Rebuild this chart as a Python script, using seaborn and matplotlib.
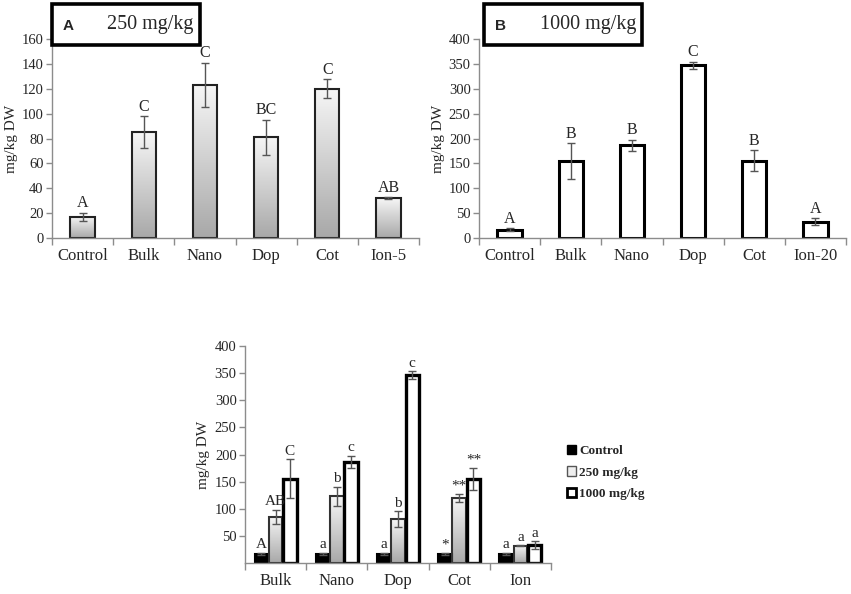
import numpy as np
import pandas as pd
import matplotlib
matplotlib.use("Agg")
import matplotlib.pyplot as plt
import seaborn as sns
from matplotlib.patches import Rectangle, Patch
from matplotlib.colors import LinearSegmentedColormap

# panel A: 250 mg/kg
cats_a = ["Control", "Bulk", "Nano", "Dop", "Cot", "Ion-5"]
vals_a = [17, 85, 123, 81, 120, 32]
err_a = [3.5, 13, 18, 14, 7.5, 1]
let_a = ["A", "C", "C", "BC", "C", "AB"]

# panel B: 1000 mg/kg
cats_b = ["Control", "Bulk", "Nano", "Dop", "Cot", "Ion-20"]
vals_b = [17, 155, 186, 347, 155, 33]
err_b = [2.5, 36, 11.5, 7, 21, 7]
let_b = ["A", "B", "B", "C", "B", "A"]

# panel C: grouped
groups_c = ["Bulk", "Nano", "Dop", "Cot", "Ion"]
series_c = ["Control", "250 mg/kg", "1000 mg/kg"]
ctrl_c = [17, 17, 17, 17, 17]
ctrl_err = [2, 2, 2, 2, 2]
low_c = [85, 123, 81, 120, 32]
low_err = [13, 18, 14, 7.5, 1]
high_c = [155, 186, 347, 155, 33]
high_err = [36, 11.5, 7, 21, 7]
let_ctrl = ["A", "a", "a", "*", "a"]
let_low = ["AB", "b", "b", "**", "a"]
let_high = ["C", "c", "c", "**", "a"]

sns.set_theme(style="white")
plt.rcParams["font.family"] = ["Liberation Serif", "DejaVu Serif"]

grey_cmap = LinearSegmentedColormap.from_list("g", ["#a8a8a8", "#f6f6f6"])
SPINE = "#8c8c8c"


def gradient_fill(ax, bars):
    xl, yl = ax.get_xlim(), ax.get_ylim()
    grad = np.linspace(0, 1, 256).reshape(-1, 1)
    for bar in bars:
        x0, y0 = bar.get_x(), bar.get_y()
        w, h = bar.get_width(), bar.get_height()
        bar.set_facecolor("none")
        ax.imshow(grad, extent=[x0, x0 + w, y0, y0 + h], origin="lower",
                  cmap=grey_cmap, aspect="auto", zorder=0.9)
    ax.set_xlim(xl)
    ax.set_ylim(yl)


def style_axis(ax, n, ymax, yticks, xfs=12):
    ax.set_xlim(-0.5, n - 0.5)
    ax.set_ylim(0, ymax)
    ax.set_yticks(yticks)
    ax.set_xticks(range(n))
    ax.set_xticks(np.arange(-0.5, n, 1), minor=True)
    ax.tick_params(axis="x", which="major", length=0, labelsize=xfs, pad=7)
    ax.tick_params(axis="x", which="minor", length=5, color=SPINE, width=1,
                   direction="out", bottom=True)
    ax.tick_params(axis="y", length=4, color=SPINE, width=1, direction="out",
                   left=True, labelsize=10.5, pad=2)
    for s in ["top", "right"]:
        ax.spines[s].set_visible(False)
    for s in ["left", "bottom"]:
        ax.spines[s].set_color(SPINE)
        ax.spines[s].set_linewidth(1)
    ax.set_xlabel("")
    ax.set_ylabel("mg/kg DW", fontsize=11, labelpad=3)


def add_errors(ax, bars, vals, errs, letters, fs=11.5):
    xs = [b.get_x() + b.get_width() / 2 for b in bars]
    ax.errorbar(xs, vals, yerr=errs, fmt="none", ecolor="#555555",
                elinewidth=1, capsize=3, capthick=1, zorder=3)
    for x, v, e, t in zip(xs, vals, errs, letters):
        ax.annotate(t, (x, v + e), xytext=(0, 1), textcoords="offset points",
                    ha="center", va="bottom", fontsize=fs)


fig = plt.figure(figsize=(8.51, 5.94), dpi=100)

# ---- panel A
ax_a = fig.add_axes([52 / 851, 1 - 238 / 594, 367 / 851, 199 / 594])
df_a = pd.DataFrame({"cat": cats_a, "val": vals_a})
sns.barplot(data=df_a, x="cat", y="val", ax=ax_a, width=0.4, color="white",
            edgecolor="#222222", linewidth=1.5)
style_axis(ax_a, len(cats_a), 160, range(0, 161, 20))
gradient_fill(ax_a, ax_a.patches)
add_errors(ax_a, ax_a.patches, vals_a, err_a, let_a)

# ---- panel B
ax_b = fig.add_axes([479 / 851, 1 - 238 / 594, 367 / 851, 199 / 594])
df_b = pd.DataFrame({"cat": cats_b, "val": vals_b})
sns.barplot(data=df_b, x="cat", y="val", ax=ax_b, width=0.4, color="white",
            edgecolor="black", linewidth=2.2)
style_axis(ax_b, len(cats_b), 400, range(0, 401, 50))
add_errors(ax_b, ax_b.patches, vals_b, err_b, let_b)

# ---- panel boxes
for x0, w, lab, txt, tx in [(52, 148, "A", "250 mg/kg", 150),
                            (484, 158, "B", "1000 mg/kg", 588)]:
    fig.add_artist(Rectangle((x0 / 851, 1 - 45 / 594), w / 851, 41 / 594,
                             transform=fig.transFigure, facecolor="white",
                             edgecolor="black", linewidth=2.6, zorder=5))
    fig.text((x0 + 16) / 851, 1 - 26 / 594, lab, fontsize=11, fontweight="bold",
             family=["Liberation Sans", "DejaVu Sans"], va="center", ha="center",
             zorder=6)
    fig.text(tx / 851, 1 - 24 / 594, txt, fontsize=14.5, va="center", ha="center",
             zorder=6)

# ---- panel C
ax_c = fig.add_axes([245 / 851, 1 - 563 / 594, 306 / 851, 217 / 594])
df_c = pd.DataFrame({
    "group": groups_c * 3,
    "series": [series_c[0]] * 5 + [series_c[1]] * 5 + [series_c[2]] * 5,
    "val": ctrl_c + low_c + high_c,
})
sns.barplot(data=df_c, x="group", y="val", hue="series", ax=ax_c, width=0.7,
            gap=0.06, palette=["black", "white", "white"], edgecolor="black",
            linewidth=1.5, legend=False)
style_axis(ax_c, len(groups_c), 400, range(50, 401, 50))
bars_ctrl, bars_low, bars_high = [list(c) for c in ax_c.containers]
for b in bars_high:
    b.set_linewidth(2.4)
for b in bars_low:
    b.set_edgecolor("#333333")
gradient_fill(ax_c, bars_low)
add_errors(ax_c, bars_ctrl, ctrl_c, ctrl_err, let_ctrl, fs=11)
add_errors(ax_c, bars_low, low_c, low_err, let_low, fs=11)
add_errors(ax_c, bars_high, high_c, high_err, let_high, fs=11)

handles = [Patch(facecolor="black", edgecolor="black", linewidth=1),
           Patch(facecolor="#eeeeee", edgecolor="#555555", linewidth=1),
           Patch(facecolor="white", edgecolor="black", linewidth=2)]
fig.legend(handles, series_c, loc="upper left",
           bbox_to_anchor=(555 / 851, 1 - 433 / 594), frameon=False,
           handlelength=0.7, handleheight=0.7, handletextpad=0.25,
           labelspacing=0.7, prop={"size": 9.5, "weight": "bold"})

fig.savefig("out.png", dpi=100)
